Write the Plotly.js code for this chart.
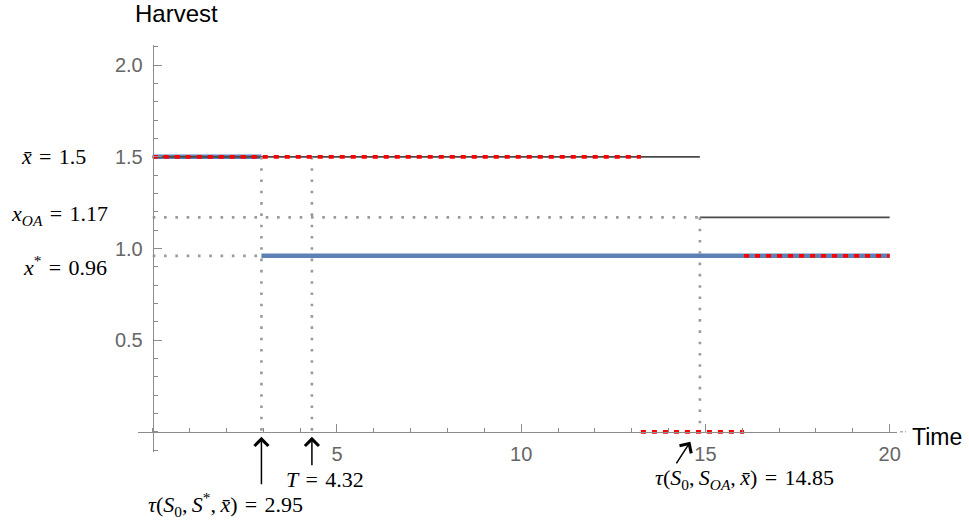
<!DOCTYPE html>
<html>
<head>
<meta charset="utf-8">
<script src="https://cdn.plot.ly/plotly-3.0.1.min.js"></script>
<style>
  html, body { margin: 0; padding: 0; background: #fff; }
  #chart { width: 969px; height: 521px; }
</style>
</head>
<body>
<div id="chart"></div>
<script>
// Harvest levels
const xBar = 1.5;      // constant harvest x̄
const xOA = 1.17;      // open-access harvest
const xStar = 0.96;    // optimal steady harvest

// Switching times
const tauStar = 2.95;  // τ(S0, S*, x̄)
const T = 4.32;
const tauOA = 14.85;   // τ(S0, S_OA, x̄)
const tEnd = 20;

// Open-access path (thin dark line)
const oaTime    = [0, tauOA, null, tauOA, tEnd];
const oaHarvest = [xBar, xBar, null, xOA, xOA];

// Optimal path (thick blue)
const optTime    = [0, tauStar, null, tauStar, tEnd];
const optHarvest = [xBar, xBar, null, xStar, xStar];

// Alternative path (red dashed): x̄, then shut-down, then x*
const altTime    = [0, 13.25, null, 13.25, 16.05, null, 16.05, tEnd];
const altHarvest = [xBar, xBar, null, 0, 0, null, xStar, xStar];

// Axis ticks
const xTickVals = [5, 10, 15, 20];
const xTickText = ['5', '10', '15', '20'];
const yTickVals = [0.5, 1.0, 1.5, 2.0];
const yTickText = ['0.5', '1.0', '1.5', '2.0'];

// Axis ranges (axes cross at the origin)
const xRange = [-0.4, 20.2];
const yRange = [-0.11, 2.11];

// Guide lines (gray dotted)
const guideTime = [0, tauOA, null, 0, tauStar, null,
                   tauStar, tauStar, null, T, T, null, tauOA, tauOA];
const guideHarvest = [xOA, xOA, null, xStar, xStar, null,
                      xBar, 0, null, xBar, 0, null, xOA, 0];

const M = { l: 137.6, r: 72.4, t: 45.4, b: 68.5 };
const W = 969 - M.l - M.r;
const H = 521 - M.t - M.b;
const pxX = p => (p - M.l) / W;
const pxY = p => (521 - M.b - p) / H;

const traces = [
  { x: optTime, y: optHarvest, mode: 'lines', connectgaps: false,
    line: { color: '#5E81B5', width: 4.5 }, hoverinfo: 'skip' },
  { x: oaTime, y: oaHarvest, mode: 'lines', connectgaps: false,
    line: { color: '#4a4a4a', width: 1.6 }, hoverinfo: 'skip' },
  { x: guideTime, y: guideHarvest, mode: 'lines', connectgaps: false,
    line: { color: '#9a9a9a', width: 2.6, dash: '2.6px,8.7px' }, hoverinfo: 'skip' },
  { x: altTime, y: altHarvest, mode: 'lines', connectgaps: false,
    line: { color: '#ff0000', width: 3.8, dash: '5px,6px' }, hoverinfo: 'skip' }
];

const serif = { family: 'Liberation Serif, Times New Roman, serif', size: 22, color: '#000' };
const sans = 'Liberation Sans, Arial, sans-serif';
const EQ = '\u2004=\u2004';
const C = ',\u2009';

const arrow = { text: '', showarrow: true, arrowhead: 4, arrowsize: 1.8,
                arrowwidth: 1.5, arrowcolor: '#000', xref: 'x', yref: 'y' };

const annotations = [
  // axis labels
  { text: 'Harvest', xref: 'paper', yref: 'paper', x: pxX(176), y: pxY(14),
    xanchor: 'center', yanchor: 'middle', showarrow: false,
    font: { family: sans, size: 24, color: '#000' } },
  { text: 'Time', xref: 'paper', yref: 'y', x: 1, y: 0, xshift: 13, yshift: -5,
    xanchor: 'left', yanchor: 'middle', showarrow: false,
    font: { family: sans, size: 23, color: '#000' } },

  // harvest level labels
  { text: '<i>x̄</i>' + EQ + '1.5', xref: 'paper', yref: 'y', x: pxX(19), y: xBar,
    xanchor: 'left', yanchor: 'middle', showarrow: false, font: serif },
  { text: '<i>x</i><sub><i>OA</i></sub>' + EQ + '1.17', xref: 'paper', yref: 'y', x: pxX(9), y: xOA,
    yshift: 2, xanchor: 'left', yanchor: 'middle', showarrow: false, font: serif },
  { text: '<i>x</i><sup>*</sup>' + EQ + '0.96', xref: 'paper', yref: 'y', x: pxX(21), y: xStar,
    yshift: -10, xanchor: 'left', yanchor: 'middle', showarrow: false, font: serif },

  // switching time labels
  { text: '<i>τ</i>(<i>S</i><sub>0</sub>' + C + '<i>S</i><sup>*</sup>' + C + '<i>x̄</i>)' + EQ + '2.95',
    xref: 'x', yref: 'y', x: tauStar, y: 0, xshift: -36, yshift: -73,
    xanchor: 'center', yanchor: 'middle', showarrow: false, font: serif },
  { text: '<i>T</i>' + EQ + '4.32', xref: 'x', yref: 'y', x: T, y: 0, xshift: 13.5, yshift: -48,
    xanchor: 'center', yanchor: 'middle', showarrow: false, font: serif },
  { text: '<i>τ</i>(<i>S</i><sub>0</sub>' + C + '<i>S</i><sub><i>OA</i></sub>' + C + '<i>x̄</i>)' + EQ + '14.85',
    xref: 'x', yref: 'y', x: tauOA, y: 0, xshift: 44.5, yshift: -47,
    xanchor: 'center', yanchor: 'middle', showarrow: false, font: serif },

  // arrows
  Object.assign({}, arrow, { x: tauStar, y: 0, yshift: -5, ax: 0, ay: 49 }),
  Object.assign({}, arrow, { x: T, y: 0, yshift: -5, ax: 0, ay: 30 }),
  Object.assign({}, arrow, { x: tauOA, y: 0, xshift: -9.5, yshift: -10, ax: -15, ay: 23 })
];

const axisColor = '#8c8c8c';
const tickFont = { family: sans, size: 20, color: '#666' };

const layout = {
  width: 969, height: 521,
  margin: M,
  paper_bgcolor: '#fff', plot_bgcolor: '#fff',
  showlegend: false,
  xaxis: {
    range: xRange, domain: [0, 1],
    anchor: 'free', position: (0 - yRange[0]) / (yRange[1] - yRange[0]),
    showgrid: false, zeroline: false,
    showline: true, linecolor: axisColor, linewidth: 1,
    tickmode: 'array', tickvals: xTickVals, ticktext: xTickText,
    ticks: 'inside', ticklen: 8, tickwidth: 1, tickcolor: axisColor,
    minor: { dtick: 1, tick0: 0, ticks: 'inside', ticklen: 4, tickcolor: axisColor, showgrid: false },
    tickfont: tickFont, ticklabelstandoff: 4
  },
  yaxis: {
    range: yRange, domain: [0, 1],
    anchor: 'free', position: (0 - xRange[0]) / (xRange[1] - xRange[0]),
    showgrid: false, zeroline: false,
    showline: true, linecolor: axisColor, linewidth: 1,
    tickmode: 'array', tickvals: yTickVals, ticktext: yTickText,
    ticks: 'inside', ticklen: 8, tickwidth: 1, tickcolor: axisColor,
    minor: { dtick: 0.1, tick0: 0, ticks: 'inside', ticklen: 4, tickcolor: axisColor, showgrid: false },
    tickfont: tickFont, ticklabelstandoff: 6
  },
  shapes: [
    // short dashed tail at the end of the time axis
    { type: 'line', xref: 'paper', yref: 'y', x0: 1.004, x1: 1.012, y0: 0, y1: 0,
      line: { color: axisColor, width: 1, dash: '3px,2px' } }
  ],
  annotations: annotations
};

Plotly.newPlot('chart', traces, layout, { staticPlot: true });
</script>
</body>
</html>
